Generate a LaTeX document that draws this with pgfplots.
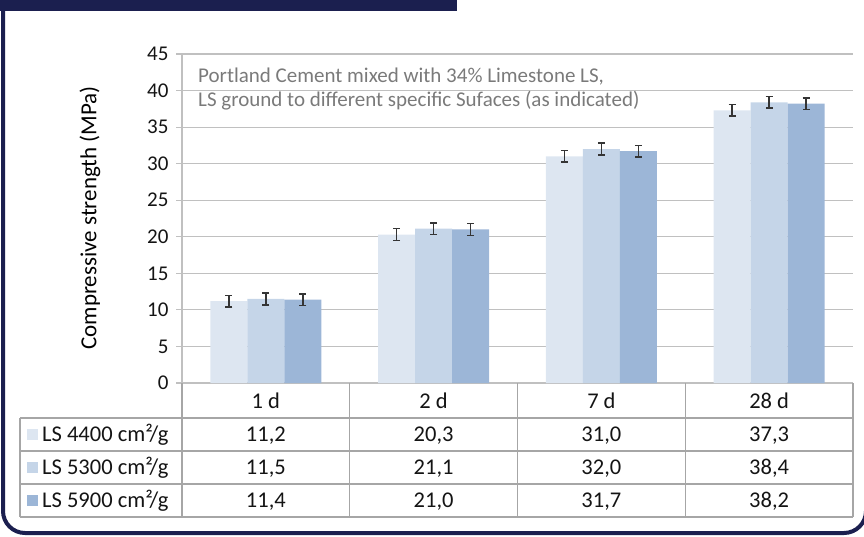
\documentclass[border=0pt]{standalone}
\usepackage{pgfplots}
\usepackage{pgfplotstable}
\pgfplotsset{compat=1.18}
\usepackage{fontspec}
\setmainfont{Carlito}
\definecolor{navy}{HTML}{1B1F4F}
\definecolor{cA}{HTML}{DDE6F1}
\definecolor{cB}{HTML}{C5D5E8}
\definecolor{cC}{HTML}{9CB6D7}
\definecolor{gridg}{HTML}{C0C0C0}
\definecolor{tabg}{HTML}{A6A6A6}
\definecolor{annot}{HTML}{7A7A7A}
\definecolor{errc}{HTML}{353535}
\pgfplotstableread{
x y e
0 11.2 0.8
1 20.3 0.8
2 31.0 0.8
3 37.3 0.8
}\sA
\pgfplotstableread{
x y e
0 11.5 0.8
1 21.1 0.8
2 32.0 0.8
3 38.4 0.8
}\sB
\pgfplotstableread{
x y e
0 11.4 0.8
1 21.0 0.8
2 31.7 0.8
3 38.2 0.8
}\sC
\begin{document}
\begin{tikzpicture}[x=1pt,y=1pt]
\useasboundingbox (0,0) rectangle (864,536);
\begin{scope}
\clip (0,0) rectangle (864,536);
\draw[navy, line width=4pt, rounded corners=22pt] (3,3) rectangle (866,620);
\fill[navy] (0,536) rectangle (457,525);
\end{scope}
\begin{axis}[
  at={(182pt,153pt)}, anchor=south west,
  scale only axis, width=671pt, height=329pt,
  ybar=0pt, bar width=37pt,
  xmin=-0.5, xmax=3.5, ymin=0, ymax=45,
  ytick={0,5,...,45}, xtick=\empty,
  axis x line*=bottom, axis y line*=left,
  axis line style={draw=gridg, line width=1.2pt},
  ymajorgrids, grid style={draw=gridg, line width=1.2pt},
  tick align=outside, major tick length=6pt,
  ytick style={draw=gridg, line width=1.2pt},
  yticklabel style={font=\fontsize{21}{21}\selectfont, text=black!92, xshift=-4pt},
  /pgf/number format/assume math mode=true,
  error bars/y dir=both, error bars/y explicit,
  error bars/error bar style={line width=1.5pt, draw=errc},
  error bars/error mark options={rotate=90, mark size=3.5pt, line width=1.5pt, draw=errc},
  clip=false,
]
\addplot[draw=none, fill=cA] table[x=x, y=y, y error=e] {\sA};
\addplot[draw=none, fill=cB] table[x=x, y=y, y error=e] {\sB};
\addplot[draw=none, fill=cC] table[x=x, y=y, y error=e] {\sC};
\end{axis}
% y label
\node[rotate=90, font=\fontsize{23}{23}\selectfont] at (90,318) {Compressive strength (MPa)};
% annotation
\node[anchor=base west, text=annot, font=\fontsize{21}{21}\selectfont, inner sep=0pt] at (198,453) {Portland Cement mixed with 34\% Limestone LS,};
\node[anchor=base west, text=annot, font=\fontsize{21}{21}\selectfont, inner sep=0pt] at (198,429.5) {LS ground to different specific Sufaces (as indicated)};
% table grid
\begin{scope}[draw=tabg, line width=1.3pt]
\draw (20,118) -- (853,118);
\draw (20,85) -- (853,85);
\draw (20,52) -- (853,52);
\draw (20,19) -- (853,19);
\draw (20,118) -- (20,19);
\draw (182,153) -- (182,19);
\draw (349.75,153) -- (349.75,19);
\draw (517.5,153) -- (517.5,19);
\draw (685.25,153) -- (685.25,19);
\draw (853,153) -- (853,19);
\end{scope}
\begin{scope}[every node/.style={font=\fontsize{22.5}{22.5}\selectfont, anchor=base, inner sep=0pt, text=black!92}]
\node at (265.9,128) {1 d};
\node at (433.6,128) {2 d};
\node at (601.4,128) {7 d};
\node at (769.1,128) {28 d};
\node at (265.9,94.5) {11,2};
\node at (433.6,94.5) {20,3};
\node at (601.4,94.5) {31,0};
\node at (769.1,94.5) {37,3};
\node at (265.9,61.5) {11,5};
\node at (433.6,61.5) {21,1};
\node at (601.4,61.5) {32,0};
\node at (769.1,61.5) {38,4};
\node at (265.9,28.5) {11,4};
\node at (433.6,28.5) {21,0};
\node at (601.4,28.5) {31,7};
\node at (769.1,28.5) {38,2};
\node[anchor=base west] at (42,94.5) {LS 4400 cm²/g};
\node[anchor=base west] at (42,61.5) {LS 5300 cm²/g};
\node[anchor=base west] at (42,28.5) {LS 5900 cm²/g};
\end{scope}
\fill[cA] (27,107) rectangle (38,96);
\fill[cB] (27,74) rectangle (38,63);
\fill[cC] (27,41) rectangle (38,30);
\end{tikzpicture}
\end{document}
